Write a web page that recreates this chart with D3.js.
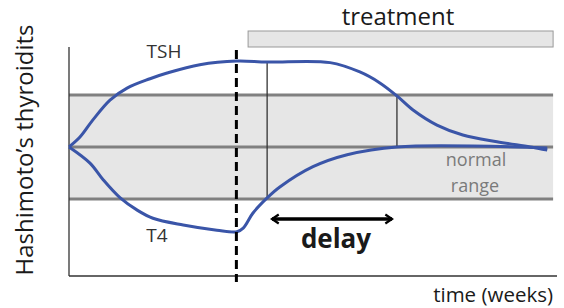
<!DOCTYPE html>
<html>
<head>
<meta charset="utf-8">
<script src="https://cdn.jsdelivr.net/npm/d3@7"></script>
<style>
  body { margin: 0; background: #fff; }
  text { font-family: "Open Sans", sans-serif; }
</style>
</head>
<body>
<div id="chart"></div>
<script>
// conceptual units: time 0..100, level in "normal range half-widths"
var tshT = [0, 2.25, 4.9, 8.4, 11.9, 16.6, 20.1, 26.8, 34.4, 40.6, 53.5, 59.6, 63.7, 67.2, 70.5, 75.4, 80.7, 87.7, 94.5, 98];
var tshV = [0, 0.19, 0.52, 0.90, 1.13, 1.31, 1.42, 1.58, 1.65, 1.63, 1.62, 1.44, 1.23, 0.98, 0.71, 0.42, 0.23, 0.10, 0.0, -0.06];
var t4T = [0, 4.3, 7.0, 10.5, 13.9, 17.2, 23.4, 30.3, 34.4, 35.7, 37.7, 40.6, 43.2, 50, 57, 67.2, 98];
var t4V = [0, -0.31, -0.63, -0.98, -1.21, -1.37, -1.5, -1.6, -1.63, -1.56, -1.27, -0.98, -0.77, -0.38, -0.15, 0, -0.02];
var normalBand = [-1, 0, 1];
var onsetT = 34.3;
var treatment = [36.7, 99.2];
var delayMarks = [40.6, 67.2];
var delayArrow = [41.6, 66.2];

var width = 564, height = 308;
var svg = d3.select("#chart").append("svg")
  .attr("width", width)
  .attr("height", height);

var x = d3.scaleLinear().domain([0, 100]).range([69, 557]);
var y = d3.scaleLinear().domain([-2.48, 1.92]).range([276, 47]);

// normal range band
svg.append("rect")
  .attr("x", x(0))
  .attr("y", y(1))
  .attr("width", x(99.2) - x(0))
  .attr("height", y(-1) - y(1))
  .attr("fill", "#e6e6e6");

svg.selectAll(".band")
  .data(normalBand)
  .enter()
  .append("line")
    .attr("x1", x(0))
    .attr("x2", x(99.2))
    .attr("y1", function (d) { return y(d); })
    .attr("y2", function (d) { return y(d); })
    .attr("stroke", "#808080")
    .attr("stroke-width", 3);

// axes
svg.append("line")
  .attr("x1", x(0)).attr("x2", x(0))
  .attr("y1", y(1.92)).attr("y2", y(-2.48))
  .attr("stroke", "#333").attr("stroke-width", 1.3);
svg.append("line")
  .attr("x1", x(0)).attr("x2", x(100))
  .attr("y1", y(-2.48)).attr("y2", y(-2.48))
  .attr("stroke", "#333").attr("stroke-width", 1.3);

// treatment bar
svg.append("rect")
  .attr("x", x(treatment[0]))
  .attr("y", 31)
  .attr("width", x(treatment[1]) - x(treatment[0]))
  .attr("height", 16)
  .attr("fill", "#e6e6e6")
  .attr("stroke", "#999")
  .attr("stroke-width", 1);

svg.append("text")
  .attr("x", 398)
  .attr("y", 25)
  .attr("text-anchor", "middle")
  .attr("font-size", 24)
  .attr("fill", "#1a1a1a")
  .text("treatment");

// delay marker lines
svg.append("line")
  .attr("x1", x(delayMarks[0])).attr("x2", x(delayMarks[0]))
  .attr("y1", y(1.63)).attr("y2", y(-1))
  .attr("stroke", "#333").attr("stroke-width", 1.3);
svg.append("line")
  .attr("x1", x(delayMarks[1])).attr("x2", x(delayMarks[1]))
  .attr("y1", y(1)).attr("y2", y(0))
  .attr("stroke", "#333").attr("stroke-width", 1.3);

// curves
var line = d3.line()
  .x(function (d) { return x(d[0]); })
  .y(function (d) { return y(d[1]); })
  .curve(d3.curveCatmullRom.alpha(0.5));

svg.append("path")
  .datum(d3.zip(tshT, tshV))
  .attr("d", line)
  .attr("fill", "none")
  .attr("stroke", "#3a55a8")
  .attr("stroke-width", 3);

svg.append("path")
  .datum(d3.zip(t4T, t4V))
  .attr("d", line)
  .attr("fill", "none")
  .attr("stroke", "#3a55a8")
  .attr("stroke-width", 3);

// onset dashed line
svg.append("line")
  .attr("x1", x(onsetT)).attr("x2", x(onsetT))
  .attr("y1", 50).attr("y2", 282)
  .attr("stroke", "#000")
  .attr("stroke-width", 3)
  .attr("stroke-dasharray", "9,5");

// delay arrow
var defs = svg.append("defs");
defs.append("marker")
  .attr("id", "head")
  .attr("viewBox", "0 0 10 10")
  .attr("refX", 8).attr("refY", 5)
  .attr("markerWidth", 3.2).attr("markerHeight", 3.2)
  .attr("markerUnits", "strokeWidth")
  .attr("orient", "auto-start-reverse")
  .append("path")
    .attr("d", "M2,1 L8,5 L2,9")
    .attr("fill", "none")
    .attr("stroke", "#000")
    .attr("stroke-width", 2);

svg.append("line")
  .attr("x1", x(delayArrow[0])).attr("x2", x(delayArrow[1]))
  .attr("y1", 219).attr("y2", 219)
  .attr("stroke", "#000")
  .attr("stroke-width", 3.5)
  .attr("marker-start", "url(#head)")
  .attr("marker-end", "url(#head)");

svg.append("text")
  .attr("x", 336).attr("y", 248)
  .attr("text-anchor", "middle")
  .attr("font-size", 26)
  .attr("font-weight", "bold")
  .attr("fill", "#1a1a1a")
  .text("delay");

// labels
svg.append("text")
  .attr("x", 164).attr("y", 58)
  .attr("text-anchor", "middle")
  .attr("font-size", 19)
  .attr("fill", "#333")
  .text("TSH");

svg.append("text")
  .attr("x", 157).attr("y", 242)
  .attr("text-anchor", "middle")
  .attr("font-size", 19)
  .attr("fill", "#333")
  .text("T4");

svg.append("text")
  .attr("x", 476).attr("y", 166)
  .attr("text-anchor", "middle")
  .attr("font-size", 18)
  .attr("fill", "#7a7a7a")
  .text("normal");

svg.append("text")
  .attr("x", 475).attr("y", 192)
  .attr("text-anchor", "middle")
  .attr("font-size", 18)
  .attr("fill", "#7a7a7a")
  .text("range");

svg.append("text")
  .attr("transform", "translate(33,150) rotate(-90)")
  .attr("text-anchor", "middle")
  .attr("font-size", 24)
  .attr("fill", "#1a1a1a")
  .text("Hashimoto\u2019s thyroidits");

svg.append("text")
  .attr("x", 553).attr("y", 302)
  .attr("text-anchor", "end")
  .attr("font-size", 20.5)
  .attr("fill", "#1a1a1a")
  .text("time (weeks)");
</script>
</body>
</html>
